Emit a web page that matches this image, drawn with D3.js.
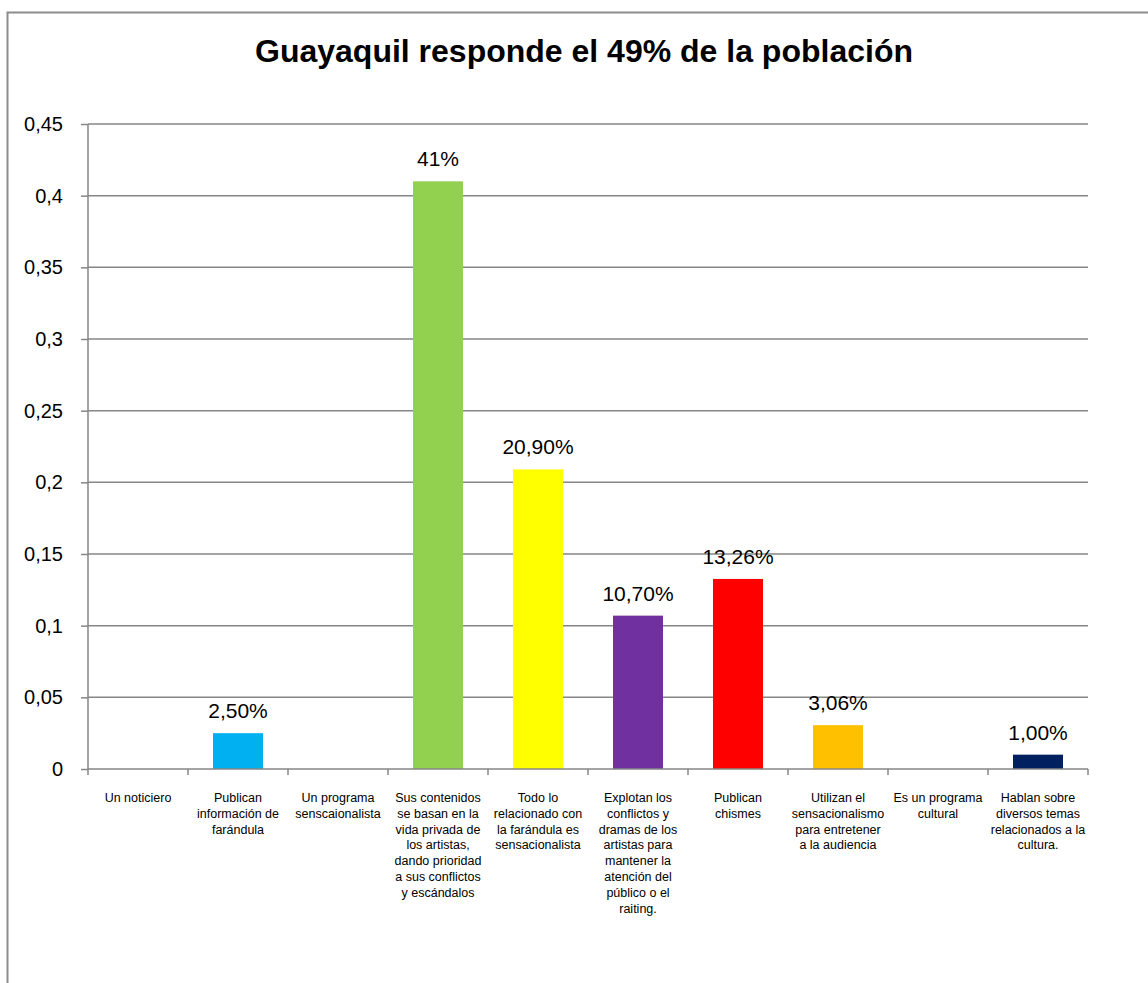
<!DOCTYPE html>
<html><head><meta charset="utf-8">
<script src="https://cdn.jsdelivr.net/npm/d3@7"></script>
<style>body{margin:0;background:#fff;} svg{display:block;font-family:"Liberation Sans",Arial,sans-serif;}</style>
</head><body><svg id="c" width="1148" height="983"></svg>
<script>
const categories = [
  "Un noticiero",
  "Publican\ninformación de\nfarándula",
  "Un programa\nsenscaionalista",
  "Sus contenidos\nse basan en la\nvida privada de\nlos artistas,\ndando prioridad\na sus conflictos\ny escándalos",
  "Todo lo\nrelacionado con\nla farándula es\nsensacionalista",
  "Explotan los\nconflictos y\ndramas de los\nartistas para\nmantener la\natención del\npúblico o el\nraiting.",
  "Publican\nchismes",
  "Utilizan el\nsensacionalismo\npara entretener\na la audiencia",
  "Es un programa\ncultural",
  "Hablan sobre\ndiversos temas\nrelacionados a la\ncultura."
];
const values = [null, 0.025, null, 0.41, 0.209, 0.107, 0.1326, 0.0306, null, 0.01];
const valueLabels = ["", "2,50%", "", "41%", "20,90%", "10,70%", "13,26%", "3,06%", "", "1,00%"];
const colors = ["#4F81BD", "#00B0F0", "#4F81BD", "#92D050", "#FFFF00", "#7030A0", "#FF0000", "#FFC000", "#4F81BD", "#002060"];
const yTicks = [0, 0.05, 0.1, 0.15, 0.2, 0.25, 0.3, 0.35, 0.4, 0.45];
const yTickLabels = ["0", "0,05", "0,1", "0,15", "0,2", "0,25", "0,3", "0,35", "0,4", "0,45"];
const title = "Guayaquil responde el 49% de la población";

(function () {
const svg = d3.select("#c");
svg.append("rect").attr("x", 7.5).attr("y", 12.5).attr("width", 1200).attr("height", 1100)
  .attr("fill", "none").attr("stroke", "#8c8c8c").attr("stroke-width", 2);

const pL = 88, pR = 1088, pT = 124, pB = 769;
const x = d3.scaleBand().domain(d3.range(categories.length)).range([pL, pR]).paddingInner(0.5).paddingOuter(0.25);
const xOuter = d3.scaleBand().domain(d3.range(categories.length)).range([pL, pR]);
const y = d3.scaleLinear().domain([0, 0.45]).range([pB, pT]);

svg.append("text").attr("x", 584).attr("y", 62).attr("text-anchor", "middle")
  .attr("font-size", 32).attr("font-weight", "bold").attr("fill", "#000").text(title);

svg.append("g").selectAll("line").data(yTicks.slice(1)).join("line")
  .attr("x1", pL).attr("x2", pR).attr("y1", d => y(d)).attr("y2", d => y(d))
  .attr("stroke", "#868686").attr("stroke-width", 1.5);

const yAxis = d3.axisLeft(y).tickValues(yTicks).tickSize(7).tickPadding(18)
  .tickFormat((d, i) => yTickLabels[i]);
const gy = svg.append("g").attr("transform", `translate(${pL},0)`).call(yAxis);
gy.select(".domain").attr("stroke", "#868686").attr("stroke-width", 1.5).attr("d", `M0,${pT}V${pB}`);
gy.selectAll(".tick line").attr("stroke", "#868686").attr("stroke-width", 1.5);
gy.selectAll(".tick text").attr("font-size", 20).attr("fill", "#000").attr("font-family", "Liberation Sans, Arial, sans-serif");

const data = values.map((v, i) => ({v, i})).filter(d => d.v != null);
svg.append("g").selectAll("rect").data(data).join("rect")
  .attr("x", d => x(d.i)).attr("width", x.bandwidth())
  .attr("y", d => y(d.v)).attr("height", d => y(0) - y(d.v))
  .attr("fill", d => colors[d.i]);

svg.append("g").selectAll("text").data(data).join("text")
  .attr("x", d => x(d.i) + x.bandwidth() / 2).attr("y", d => y(d.v) - 15)
  .attr("text-anchor", "middle").attr("font-size", 21).attr("fill", "#000")
  .text(d => valueLabels[d.i]);

const gx = svg.append("g");
gx.append("line").attr("x1", pL).attr("x2", pR).attr("y1", pB).attr("y2", pB)
  .attr("stroke", "#868686").attr("stroke-width", 1.5);
const xTickPos = d3.range(categories.length + 1).map(i => i < categories.length ? xOuter(i) : pR);
gx.selectAll("line.t").data(xTickPos).join("line").attr("class", "t")
  .attr("x1", d => d).attr("x2", d => d).attr("y1", pB).attr("y2", pB + 6)
  .attr("stroke", "#868686").attr("stroke-width", 1.5);

const cat = svg.append("g").selectAll("text").data(categories).join("text")
  .attr("text-anchor", "middle").attr("font-size", 12.5).attr("fill", "#000");
cat.each(function(d, i) {
  const t = d3.select(this);
  d.split("\n").forEach((line, j) => {
    t.append("tspan").attr("x", xOuter(i) + xOuter.bandwidth() / 2).attr("y", 802 + j * 15.8).text(line);
  });
});
})();
</script></body></html>
